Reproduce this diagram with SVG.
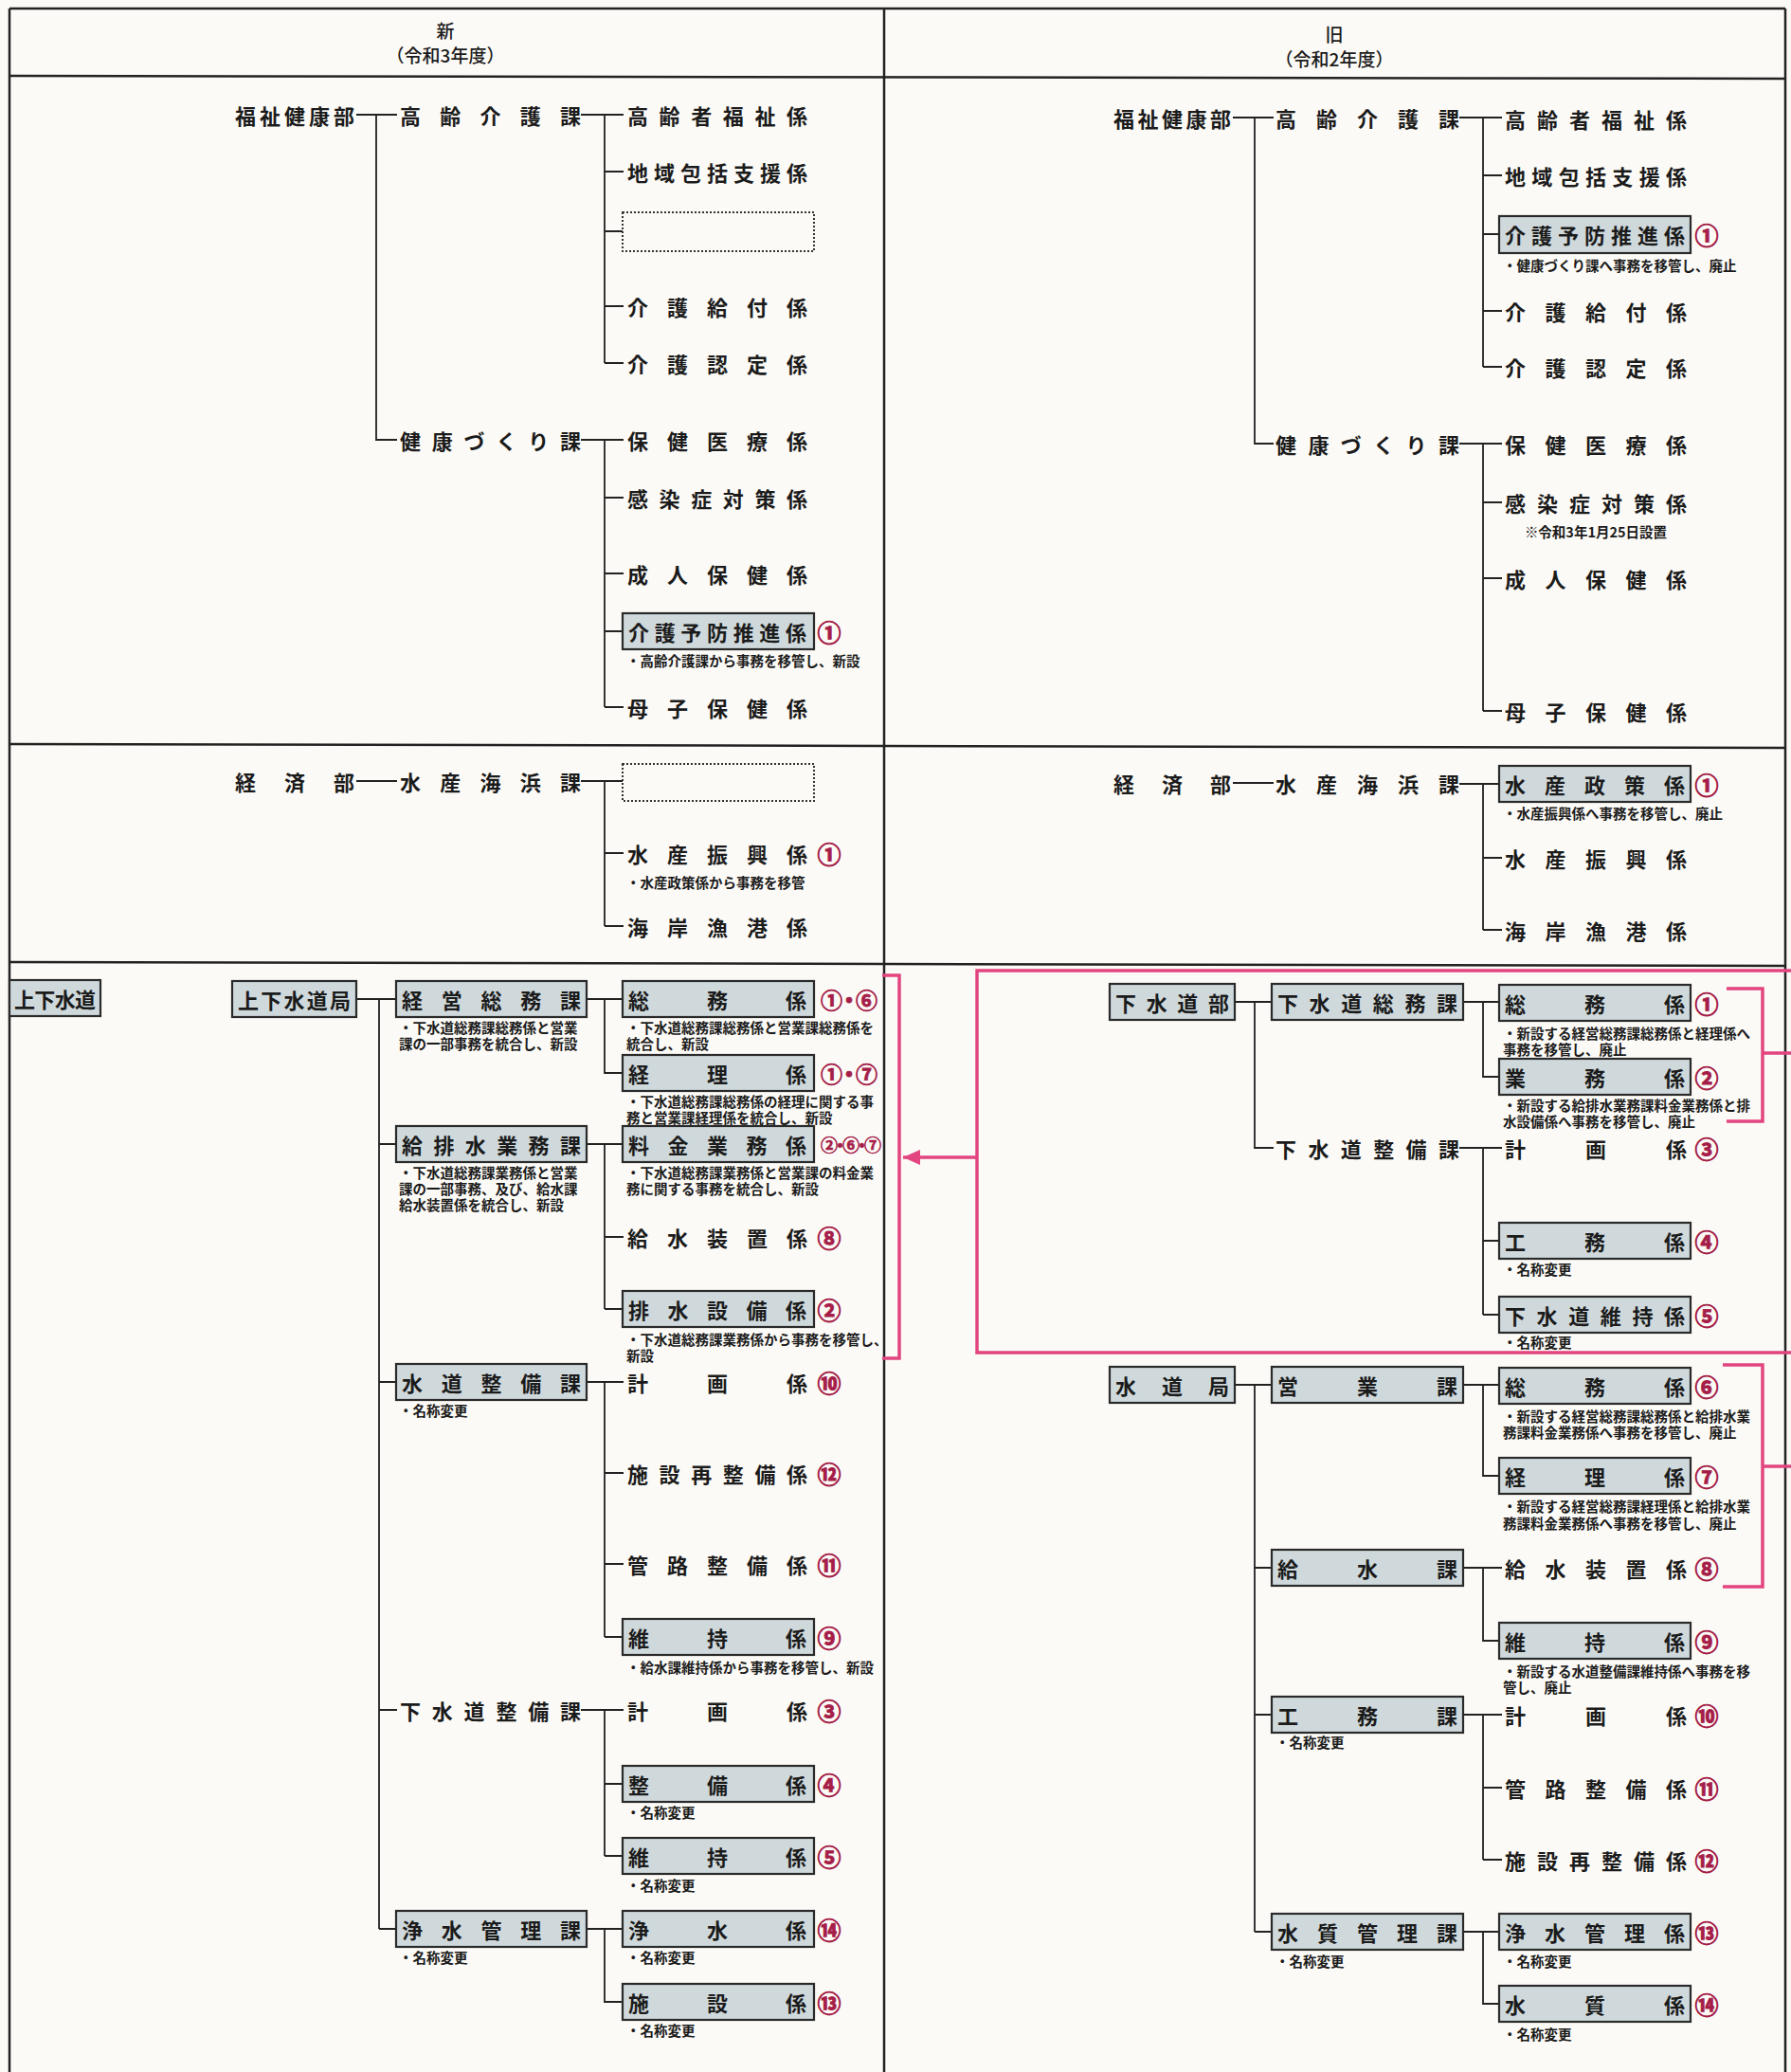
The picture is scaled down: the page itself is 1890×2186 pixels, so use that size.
<svg xmlns="http://www.w3.org/2000/svg" width="1890" height="2186" viewBox="0 0 1890 2186">
<defs>
<style>
.t{font-family:"Noto Sans CJK JP","Noto Sans CJK SC",sans-serif;font-size:22px;font-weight:700;fill:#1b1b1b;dominant-baseline:central}
.h{font-family:"Noto Sans CJK JP","Noto Sans CJK SC",sans-serif;font-size:19px;font-weight:500;fill:#1b1b1b;dominant-baseline:central;text-anchor:middle}
.n{font-family:"Noto Sans CJK JP","Noto Sans CJK SC",sans-serif;font-size:14.5px;font-weight:700;fill:#1b1b1b;dominant-baseline:central}
.nc{font-family:"Noto Sans CJK JP","Noto Sans CJK SC",sans-serif;font-size:14.5px;font-weight:700;fill:#1b1b1b;dominant-baseline:central;text-anchor:middle}
.c{font-family:"Noto Sans CJK JP","Noto Sans CJK SC",sans-serif;font-size:25px;font-weight:700;fill:#a51d48;stroke:#a51d48;stroke-width:0.9;dominant-baseline:central;text-anchor:middle}
.cm{font-family:"Noto Sans CJK JP","Noto Sans CJK SC",sans-serif;font-size:23px;font-weight:700;fill:#a51d48;stroke:#a51d48;stroke-width:0.8;dominant-baseline:central}
.cs{font-family:"Noto Sans CJK JP","Noto Sans CJK SC",sans-serif;font-size:18px;font-weight:700;fill:#a51d48;stroke:#a51d48;stroke-width:0.6;dominant-baseline:central}
.box{fill:#cfd9dc;stroke:#2a2a2a;stroke-width:2.2}
.dot{fill:none;stroke:#333;stroke-width:2;stroke-dasharray:2 2}
.ln{stroke:#222;stroke-width:1.8;fill:none}
.fr{stroke:#222;stroke-width:2.5;fill:none}
.pk{stroke:#e2457f;stroke-width:3.5;fill:none}
</style>
<marker id="ah" markerUnits="userSpaceOnUse" markerWidth="20" markerHeight="16" refX="18" refY="8" orient="auto">
<path d="M0,0 L18,8 L0,16 Z" fill="#e2457f"/>
</marker>
</defs>
<rect x="0" y="0" width="1890" height="2186" fill="#fbfaf6"/>

<g id="frame">
<path class="fr" d="M10,9 H1884 M10,9 V2186 M933,9 V2186 M1884,9 V2186"/>
<path class="fr" d="M10,80 L1884,83 M10,785 L1884,789 M10,1015 L1884,1019"/>
</g>

<g id="headers">
<text class="h" x="470" y="31">新</text>
<text class="h" x="470" y="57">（令和3年度）</text>
<text class="h" x="1408" y="35">旧</text>
<text class="h" x="1408" y="61">（令和2年度）</text>
</g>

<g id="connectors">
<path class="ln" d="M376,121 H419 M397,121 V464 H419 M613,121 H658 M638,121 V383 M638,181 H658 M638,244 H657 M638,323 H658 M638,383 H658"/>
<path class="ln" d="M613,464 H658 M638,464 V746 M638,525 H658 M638,605 H658 M638,666 H657 M638,746 H658"/>
<path class="ln" d="M376,824 H419 M613,824 H657 M638,824 V977 M638,900 H658 M638,977 H658"/>
<path class="ln" d="M376,1054 H418 M400,1054 V2035 M400,1207 H418 M400,1458 H418 M400,1804 H419 M400,2035 H418"/>
<path class="ln" d="M619,1054 H657 M638,1054 V1132 H657"/>
<path class="ln" d="M619,1207 H657 M638,1207 V1381 M638,1305 H658 M638,1381 H657"/>
<path class="ln" d="M619,1458 H658 M638,1458 V1727 M638,1554 H658 M638,1650 H658 M638,1727 H657"/>
<path class="ln" d="M613,1804 H658 M638,1804 V1958 M638,1882 H657 M638,1958 H657"/>
<path class="ln" d="M619,2035 H657 M638,2035 V2112 H657"/>
<path class="ln" d="M1301,124 H1344 M1324,124 V468 H1344 M1540,124 H1585 M1565,124 V387 M1565,185 H1585 M1565,247 H1582 M1565,328 H1585 M1565,387 H1585"/>
<path class="ln" d="M1540,468 H1585 M1565,468 V750 M1565,530 H1585 M1565,610 H1585 M1565,750 H1585"/>
<path class="ln" d="M1301,826 H1344 M1540,827 H1582 M1565,827 V981 M1565,905 H1585 M1565,981 H1585"/>
<path class="ln" d="M1303,1057 H1342 M1324,1057 V1211 H1344 M1544,1057 H1582 M1565,1057 V1136 H1582"/>
<path class="ln" d="M1540,1211 H1585 M1565,1211 V1387 M1565,1309 H1582 M1565,1387 H1582"/>
<path class="ln" d="M1303,1461 H1342 M1324,1461 V2038 M1324,1654 H1342 M1324,1809 H1342 M1324,2038 H1342"/>
<path class="ln" d="M1544,1461 H1582 M1565,1461 V1557 H1582"/>
<path class="ln" d="M1544,1654 H1585 M1565,1654 V1731 H1582"/>
<path class="ln" d="M1544,1809 H1585 M1565,1809 V1962 M1565,1886 H1585 M1565,1962 H1585"/>
<path class="ln" d="M1544,2038 H1582 M1565,2038 V2114 H1582"/>
<path class="pk" d="M931,1029 H949 V1433 H931"/>
<path class="pk" d="M1890,1024 H1031 V1427 H1890"/>
<path class="pk" d="M1031,1221 H953" marker-end="url(#ah)"/>
<path class="pk" d="M1822,1043 H1860 V1183 H1822 M1860,1111 H1890"/>
<path class="pk" d="M1818,1440 H1860 V1674 H1818 M1860,1547 H1890"/>
</g>

<g id="l-fukushikenkoubu"><text class="t" x="248" y="121" textLength="126">福祉健康部</text></g>
<g id="l-koureikaigoka"><text class="t" x="422" y="121" textLength="191">高齢介護課</text></g>
<g id="l-koureishafukushi"><text class="t" x="662" y="121" textLength="190">高齢者福祉係</text></g>
<g id="l-chiikihoukatsu"><text class="t" x="662" y="181" textLength="190">地域包括支援係</text></g>
<g id="l-empty1"><rect class="dot" x="657" y="224" width="202" height="41"/></g>
<g id="l-kaigokyufu"><text class="t" x="662" y="323" textLength="190">介護給付係</text></g>
<g id="l-kaigonintei"><text class="t" x="662" y="383" textLength="190">介護認定係</text></g>
<g id="l-kenkozukurika"><text class="t" x="422" y="464" textLength="191">健康づくり課</text></g>
<g id="l-hokeniryou"><text class="t" x="662" y="464" textLength="190">保健医療係</text></g>
<g id="l-kansenshou"><text class="t" x="662" y="525" textLength="190">感染症対策係</text></g>
<g id="l-seijinhoken"><text class="t" x="662" y="605" textLength="190">成人保健係</text></g>
<g id="l-kaigoyobou"><rect class="box" x="657" y="647" width="202" height="38"/><text class="t" x="663" y="666" textLength="188">介護予防推進係</text><text class="c" x="875" y="666">①</text><text class="n" x="661" y="696">・高齢介護課から事務を移管し、新設</text></g>
<g id="l-boshihoken"><text class="t" x="662" y="746" textLength="190">母子保健係</text></g>

<g id="l-keizaibu"><text class="t" x="248" y="824" textLength="126">経済部</text></g>
<g id="l-suisankaihinka"><text class="t" x="422" y="824" textLength="191">水産海浜課</text></g>
<g id="l-empty2"><rect class="dot" x="657" y="806" width="202" height="39"/></g>
<g id="l-suisanshinkou"><text class="t" x="662" y="900" textLength="190">水産振興係</text><text class="c" x="875" y="900">①</text><text class="n" x="661" y="930">・水産政策係から事務を移管</text></g>
<g id="l-kaigangyokou"><text class="t" x="662" y="977" textLength="190">海岸漁港係</text></g>

<g id="l-jougesuidou"><rect class="box" x="10" y="1034" width="96" height="38"/><text class="t" x="15" y="1053" textLength="86">上下水道</text></g>
<g id="l-jougesuidoukyoku"><rect class="box" x="245" y="1035" width="131" height="38"/><text class="t" x="251" y="1054" textLength="119">上下水道局</text></g>
<g id="l-keieisoumuka"><rect class="box" x="418" y="1035" width="201" height="38"/><text class="t" x="424" y="1054" textLength="189">経営総務課</text><text class="n" x="421" y="1083">・下水道総務課総務係と営業</text><text class="n" x="421" y="1100">課の一部事務を統合し、新設</text></g>
<g id="l-soumu"><rect class="box" x="657" y="1035" width="202" height="38"/><text class="t" x="663" y="1054" textLength="188">総務係</text><text class="cm" x="866" y="1054" textLength="60">①・⑥</text><text class="n" x="661" y="1083">・下水道総務課総務係と営業課総務係を</text><text class="n" x="661" y="1100">統合し、新設</text></g>
<g id="l-keiri"><rect class="box" x="657" y="1113" width="202" height="38"/><text class="t" x="663" y="1132" textLength="188">経理係</text><text class="cm" x="866" y="1132" textLength="60">①・⑦</text><text class="n" x="661" y="1161">・下水道総務課総務係の経理に関する事</text><text class="n" x="661" y="1178">務と営業課経理係を統合し、新設</text></g>
<g id="l-kyuhaisuigyoumuka"><rect class="box" x="418" y="1188" width="201" height="38"/><text class="t" x="424" y="1207" textLength="189">給排水業務課</text><text class="n" x="421" y="1236">・下水道総務課業務係と営業</text><text class="n" x="421" y="1253">課の一部事務、及び、給水課</text><text class="n" x="421" y="1270">給水装置係を統合し、新設</text></g>
<g id="l-ryoukingyoumu"><rect class="box" x="657" y="1188" width="202" height="38"/><text class="t" x="663" y="1207" textLength="188">料金業務係</text><text class="cs" x="866" y="1207" textLength="64">②・⑥・⑦</text><text class="n" x="661" y="1236">・下水道総務課業務係と営業課の料金業</text><text class="n" x="661" y="1253">務に関する事務を統合し、新設</text></g>
<g id="l-kyuusuisouchi"><text class="t" x="662" y="1305" textLength="190">給水装置係</text><text class="c" x="875" y="1305">⑧</text></g>
<g id="l-haisuisetsubi"><rect class="box" x="657" y="1362" width="202" height="38"/><text class="t" x="663" y="1381" textLength="188">排水設備係</text><text class="c" x="875" y="1381">②</text><text class="n" x="661" y="1412">・下水道総務課業務係から事務を移管し、</text><text class="n" x="661" y="1429">新設</text></g>
<g id="l-suidouseibika"><rect class="box" x="418" y="1439" width="201" height="38"/><text class="t" x="424" y="1458" textLength="189">水道整備課</text><text class="n" x="421" y="1487">・名称変更</text></g>
<g id="l-keikaku1"><text class="t" x="662" y="1458" textLength="190">計画係</text><text class="c" x="875" y="1458">⑩</text></g>
<g id="l-shisetsusaiseibi"><text class="t" x="662" y="1554" textLength="190">施設再整備係</text><text class="c" x="875" y="1554">⑫</text></g>
<g id="l-kanroseibi"><text class="t" x="662" y="1650" textLength="190">管路整備係</text><text class="c" x="875" y="1650">⑪</text></g>
<g id="l-iji1"><rect class="box" x="657" y="1708" width="202" height="38"/><text class="t" x="663" y="1727" textLength="188">維持係</text><text class="c" x="875" y="1727">⑨</text><text class="n" x="661" y="1758">・給水課維持係から事務を移管し、新設</text></g>
<g id="l-gesuidouseibika"><text class="t" x="422" y="1804" textLength="191">下水道整備課</text></g>
<g id="l-keikaku2"><text class="t" x="662" y="1804" textLength="190">計画係</text><text class="c" x="875" y="1804">③</text></g>
<g id="l-seibi"><rect class="box" x="657" y="1863" width="202" height="38"/><text class="t" x="663" y="1882" textLength="188">整備係</text><text class="c" x="875" y="1882">④</text><text class="n" x="661" y="1911">・名称変更</text></g>
<g id="l-iji2"><rect class="box" x="657" y="1939" width="202" height="38"/><text class="t" x="663" y="1958" textLength="188">維持係</text><text class="c" x="875" y="1958">⑤</text><text class="n" x="661" y="1988">・名称変更</text></g>
<g id="l-jousuikanrika"><rect class="box" x="418" y="2016" width="201" height="38"/><text class="t" x="424" y="2035" textLength="189">浄水管理課</text><text class="n" x="421" y="2064">・名称変更</text></g>
<g id="l-jousui"><rect class="box" x="657" y="2016" width="202" height="38"/><text class="t" x="663" y="2035" textLength="188">浄水係</text><text class="c" x="875" y="2035">⑭</text><text class="n" x="661" y="2064">・名称変更</text></g>
<g id="l-shisetsu"><rect class="box" x="657" y="2093" width="202" height="38"/><text class="t" x="663" y="2112" textLength="188">施設係</text><text class="c" x="875" y="2112">⑬</text><text class="n" x="661" y="2141">・名称変更</text></g>

<g id="r-fukushikenkoubu"><text class="t" x="1175" y="124" textLength="124">福祉健康部</text></g>
<g id="r-koureikaigoka"><text class="t" x="1346" y="124" textLength="194">高齢介護課</text></g>
<g id="r-koureishafukushi"><text class="t" x="1588" y="125" textLength="192">高齢者福祉係</text></g>
<g id="r-chiikihoukatsu"><text class="t" x="1588" y="185" textLength="192">地域包括支援係</text></g>
<g id="r-kaigoyobou"><rect class="box" x="1582" y="228" width="202" height="39"/><text class="t" x="1588" y="247" textLength="190">介護予防推進係</text><text class="c" x="1801" y="247">①</text><text class="n" x="1586" y="279">・健康づくり課へ事務を移管し、廃止</text></g>
<g id="r-kaigokyufu"><text class="t" x="1588" y="328" textLength="192">介護給付係</text></g>
<g id="r-kaigonintei"><text class="t" x="1588" y="387" textLength="192">介護認定係</text></g>
<g id="r-kenkozukurika"><text class="t" x="1346" y="468" textLength="194">健康づくり課</text></g>
<g id="r-hokeniryou"><text class="t" x="1588" y="468" textLength="192">保健医療係</text></g>
<g id="r-kansenshou"><text class="t" x="1588" y="530" textLength="192">感染症対策係</text><text class="nc" x="1684" y="560">※令和3年1月25日設置</text></g>
<g id="r-seijinhoken"><text class="t" x="1588" y="610" textLength="192">成人保健係</text></g>
<g id="r-boshihoken"><text class="t" x="1588" y="750" textLength="192">母子保健係</text></g>

<g id="r-keizaibu"><text class="t" x="1175" y="826" textLength="124">経済部</text></g>
<g id="r-suisankaihinka"><text class="t" x="1346" y="826" textLength="194">水産海浜課</text></g>
<g id="r-suisanseisaku"><rect class="box" x="1582" y="808" width="202" height="38"/><text class="t" x="1588" y="827" textLength="190">水産政策係</text><text class="c" x="1801" y="827">①</text><text class="n" x="1586" y="857">・水産振興係へ事務を移管し、廃止</text></g>
<g id="r-suisanshinkou"><text class="t" x="1588" y="905" textLength="192">水産振興係</text></g>
<g id="r-kaigangyokou"><text class="t" x="1588" y="981" textLength="192">海岸漁港係</text></g>

<g id="r-gesuidoubu"><rect class="box" x="1171" y="1038" width="132" height="38"/><text class="t" x="1177" y="1057" textLength="120">下水道部</text></g>
<g id="r-gesuidousoumuka"><rect class="box" x="1342" y="1038" width="202" height="38"/><text class="t" x="1348" y="1057" textLength="190">下水道総務課</text></g>
<g id="r-soumu1"><rect class="box" x="1582" y="1039" width="202" height="38"/><text class="t" x="1588" y="1058" textLength="190">総務係</text><text class="c" x="1801" y="1058">①</text><text class="n" x="1586" y="1089">・新設する経営総務課総務係と経理係へ</text><text class="n" x="1586" y="1106">事務を移管し、廃止</text></g>
<g id="r-gyoumu"><rect class="box" x="1582" y="1117" width="202" height="38"/><text class="t" x="1588" y="1136" textLength="190">業務係</text><text class="c" x="1801" y="1136">②</text><text class="n" x="1586" y="1165">・新設する給排水業務課料金業務係と排</text><text class="n" x="1586" y="1182">水設備係へ事務を移管し、廃止</text></g>
<g id="r-gesuidouseibika"><text class="t" x="1346" y="1211" textLength="194">下水道整備課</text></g>
<g id="r-keikaku1"><text class="t" x="1588" y="1211" textLength="192">計画係</text><text class="c" x="1801" y="1211">③</text></g>
<g id="r-koumu"><rect class="box" x="1582" y="1290" width="202" height="38"/><text class="t" x="1588" y="1309" textLength="190">工務係</text><text class="c" x="1801" y="1309">④</text><text class="n" x="1586" y="1338">・名称変更</text></g>
<g id="r-gesuidouiji"><rect class="box" x="1582" y="1368" width="202" height="38"/><text class="t" x="1588" y="1387" textLength="190">下水道維持係</text><text class="c" x="1801" y="1387">⑤</text><text class="n" x="1586" y="1415">・名称変更</text></g>
<g id="r-suidoukyoku"><rect class="box" x="1171" y="1442" width="132" height="38"/><text class="t" x="1177" y="1461" textLength="120">水道局</text></g>
<g id="r-eigyouka"><rect class="box" x="1342" y="1442" width="202" height="38"/><text class="t" x="1348" y="1461" textLength="190">営業課</text></g>
<g id="r-soumu2"><rect class="box" x="1582" y="1443" width="202" height="38"/><text class="t" x="1588" y="1462" textLength="190">総務係</text><text class="c" x="1801" y="1462">⑥</text><text class="n" x="1586" y="1493">・新設する経営総務課総務係と給排水業</text><text class="n" x="1586" y="1510">務課料金業務係へ事務を移管し、廃止</text></g>
<g id="r-keiri"><rect class="box" x="1582" y="1538" width="202" height="38"/><text class="t" x="1588" y="1557" textLength="190">経理係</text><text class="c" x="1801" y="1557">⑦</text><text class="n" x="1586" y="1588">・新設する経営総務課経理係と給排水業</text><text class="n" x="1586" y="1606">務課料金業務係へ事務を移管し、廃止</text></g>
<g id="r-kyuusuika"><rect class="box" x="1342" y="1635" width="202" height="38"/><text class="t" x="1348" y="1654" textLength="190">給水課</text></g>
<g id="r-kyuusuisouchi"><text class="t" x="1588" y="1654" textLength="192">給水装置係</text><text class="c" x="1801" y="1654">⑧</text></g>
<g id="r-iji"><rect class="box" x="1582" y="1712" width="202" height="38"/><text class="t" x="1588" y="1731" textLength="190">維持係</text><text class="c" x="1801" y="1731">⑨</text><text class="n" x="1586" y="1762">・新設する水道整備課維持係へ事務を移</text><text class="n" x="1586" y="1779">管し、廃止</text></g>
<g id="r-koumuka"><rect class="box" x="1342" y="1790" width="202" height="38"/><text class="t" x="1348" y="1809" textLength="190">工務課</text><text class="n" x="1346" y="1837">・名称変更</text></g>
<g id="r-keikaku2"><text class="t" x="1588" y="1809" textLength="192">計画係</text><text class="c" x="1801" y="1809">⑩</text></g>
<g id="r-kanroseibi"><text class="t" x="1588" y="1886" textLength="192">管路整備係</text><text class="c" x="1801" y="1886">⑪</text></g>
<g id="r-shisetsusaiseibi"><text class="t" x="1588" y="1962" textLength="192">施設再整備係</text><text class="c" x="1801" y="1962">⑫</text></g>
<g id="r-suishitsukanrika"><rect class="box" x="1342" y="2019" width="202" height="38"/><text class="t" x="1348" y="2038" textLength="190">水質管理課</text><text class="n" x="1346" y="2068">・名称変更</text></g>
<g id="r-jousuikanri"><rect class="box" x="1582" y="2019" width="202" height="38"/><text class="t" x="1588" y="2038" textLength="190">浄水管理係</text><text class="c" x="1801" y="2038">⑬</text><text class="n" x="1586" y="2068">・名称変更</text></g>
<g id="r-suishitsu"><rect class="box" x="1582" y="2095" width="202" height="38"/><text class="t" x="1588" y="2114" textLength="190">水質係</text><text class="c" x="1801" y="2114">⑭</text><text class="n" x="1586" y="2145">・名称変更</text></g>
</svg>
